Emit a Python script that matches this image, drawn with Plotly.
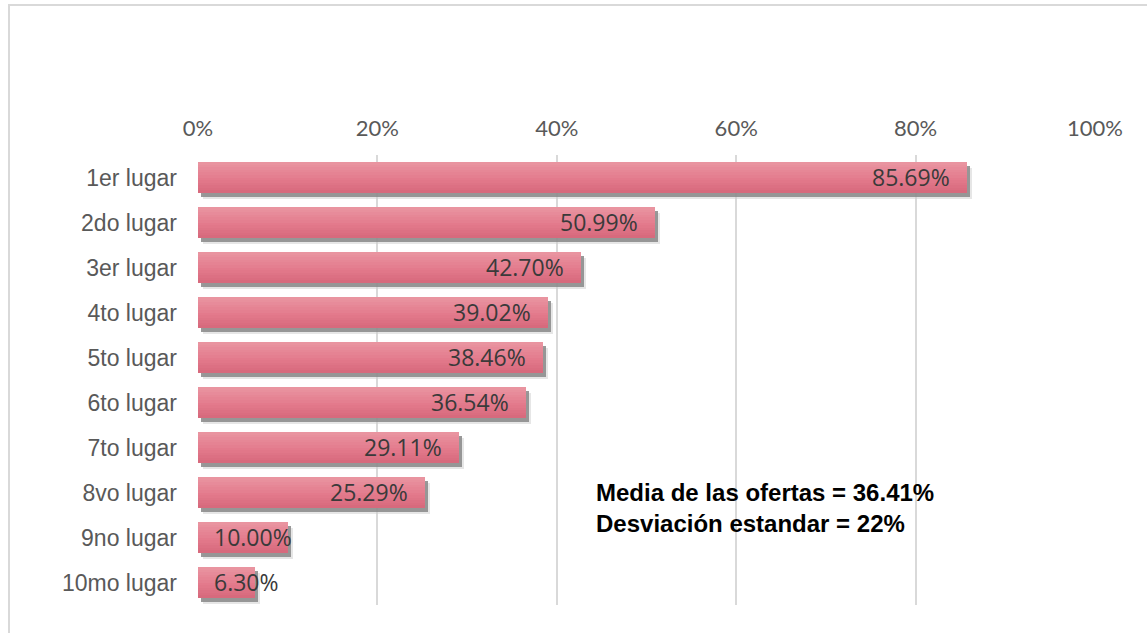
import plotly.graph_objects as go

# Chart data
categories = ["1er lugar", "2do lugar", "3er lugar", "4to lugar", "5to lugar",
              "6to lugar", "7to lugar", "8vo lugar", "9no lugar", "10mo lugar"]
values = [85.69, 50.99, 42.70, 39.02, 38.46, 36.54, 29.11, 25.29, 10.00, 6.30]
tick_vals = [0, 20, 40, 60, 80, 100]
tick_text = ["0%", "20%", "40%", "60%", "80%", "100%"]
summary_lines = ["Media de las ofertas = 36.41%", "Desviación estandar = 22%"]

BAR_W = 0.69
PX_PER_PCT = 897 / 100
PX_PER_CAT = 45

fig = go.Figure()

# Base axes: carry ticks, category labels and gridlines (transparent bars)
fig.add_trace(go.Bar(y=categories, x=values, orientation="h", width=BAR_W,
                     marker=dict(color="rgba(0,0,0,0)", line=dict(width=0)),
                     hoverinfo="skip", showlegend=False))

# Soft drop shadow, drawn on overlay axes shifted a few pixels right/down
def shadow_axes(dx_px, dy_px):
    dx = dx_px / PX_PER_PCT
    dy = dy_px / PX_PER_CAT
    return [0 - dx, 100 - dx], [9.5 - dy, -0.5 - dy]

shadow_layers = [("x2", "y2", 5, 6, "rgba(205,205,205,0.5)"),
                 ("x3", "y3", 3, 4, "rgba(135,135,135,0.85)")]
for xa, ya, dx, dy, col in shadow_layers:
    fig.add_trace(go.Bar(y=categories, x=values, orientation="h", width=BAR_W,
                         marker=dict(color=col, line=dict(width=0)),
                         xaxis=xa, yaxis=ya, hoverinfo="skip", showlegend=False))

# Vertical gradient on the bars, built from thin horizontal bands (top overlay axes)
stops = [(0.0, (234, 150, 162)), (0.55, (227, 122, 140)), (1.0, (214, 104, 124))]

def band_color(t):
    for (t0, c0), (t1, c1) in zip(stops[:-1], stops[1:]):
        if t <= t1:
            f = (t - t0) / (t1 - t0)
            return "rgb(%d,%d,%d)" % tuple(round(a + (b - a) * f) for a, b in zip(c0, c1))
    return "rgb(%d,%d,%d)" % stops[-1][1]

n_bands = 12
band_w = BAR_W / n_bands
for k in range(n_bands):
    fig.add_trace(go.Bar(y=categories, x=values, orientation="h",
                         width=band_w * 1.02, offset=-BAR_W / 2 + k * band_w,
                         marker=dict(color=band_color((k + 0.5) / n_bands), line=dict(width=0)),
                         xaxis="x4", yaxis="y4", hoverinfo="skip", showlegend=False))

# Value labels at the inner end of each bar
for cat, v in zip(categories, values):
    fits = v >= 15
    fig.add_annotation(x=v if fits else 0, y=cat, xref="x4", yref="y4", yshift=1,
                       text=f"{v:.2f}%", showarrow=False,
                       xanchor="right" if fits else "left", xshift=-15 if fits else 14,
                       font=dict(family="Open Sans, Arial", size=23, color="#3A3A3A",
                                 weight=500))

# Summary statistics text box
fig.add_annotation(x=(594 - 198) / 897, y=(605 - 477) / 450, xref="paper", yref="paper",
                   xanchor="left", yanchor="top", align="left", showarrow=False,
                   text="<br>".join(f"<b>{s}</b>" for s in summary_lines),
                   font=dict(family="Liberation Sans, Arial", size=24, color="#000000"))

# Chart area border
fig.add_shape(type="rect", xref="paper", yref="paper",
              x0=(9 - 198) / 897, x1=1.3, y0=-0.2, y1=1 + (155 - 5) / 450,
              line=dict(color="#D9D9D9", width=2), fillcolor="rgba(0,0,0,0)", layer="below")

x_range = [0, 100]
y_range = [9.5, -0.5]
axis_common = dict(showgrid=False, zeroline=False, showticklabels=False, fixedrange=True)
x2r, y2r = shadow_axes(5, 6)
x3r, y3r = shadow_axes(3, 4)

fig.update_layout(
    width=1147, height=633,
    margin=dict(l=198, r=52, t=155, b=28),
    paper_bgcolor="white", plot_bgcolor="white",
    barmode="overlay", bargap=0,
    showlegend=False,
    xaxis=dict(range=x_range, side="top", tickvals=tick_vals, ticktext=tick_text,
               showgrid=True, gridcolor="#D9D9D9", gridwidth=2, zeroline=False,
               showline=False, ticks="", ticklabelstandoff=14,
               tickfont=dict(family="Lato, Open Sans", size=22, color="#595959")),
    yaxis=dict(range=y_range, type="category", categoryarray=categories,
               showgrid=False, zeroline=False, ticks="", ticklabelstandoff=20,
               tickfont=dict(family="Liberation Sans, Arial", size=23, color="#595959")),
    xaxis2=dict(range=x2r, overlaying="x", **axis_common),
    yaxis2=dict(range=y2r, overlaying="y", type="category", categoryarray=categories, **axis_common),
    xaxis3=dict(range=x3r, overlaying="x", **axis_common),
    yaxis3=dict(range=y3r, overlaying="y", type="category", categoryarray=categories, **axis_common),
    xaxis4=dict(range=x_range, overlaying="x", **axis_common),
    yaxis4=dict(range=y_range, overlaying="y", type="category", categoryarray=categories, **axis_common),
)

fig.write_html("out.html")
